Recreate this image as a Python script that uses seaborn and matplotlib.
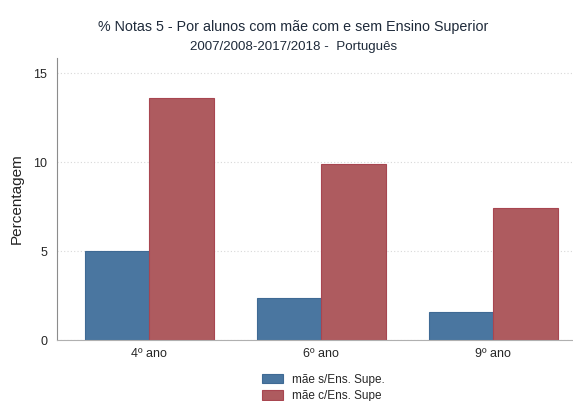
import seaborn as sns
import matplotlib.pyplot as plt
import pandas as pd

sns.set_style("white")
plt.rcParams["font.family"] = ["Liberation Sans", "DejaVu Sans"]

# Data
anos = ["4º ano", "6º ano", "9º ano"]
grupos = ["mãe s/Ens. Supe.", "mãe c/Ens. Supe"]
sem_superior = [5.0, 2.37, 1.58]
com_superior = [13.6, 9.88, 7.43]

df = pd.DataFrame({
    "ano": anos * 2,
    "grupo": [grupos[0]] * 3 + [grupos[1]] * 3,
    "pct": sem_superior + com_superior,
})

fig = plt.figure(figsize=(5.73, 4.01), dpi=100)
ax = fig.add_axes([0.0995, 0.152, 0.9005, 0.703])

sns.barplot(
    data=df, x="ano", y="pct", hue="grupo",
    palette=["#4a76a0", "#ae5b5f"], width=0.75, saturation=1,
    edgecolor=None, linewidth=0, ax=ax,
)
for patch, ec in zip(ax.patches[:6], ["#3f6a94"] * 3 + ["#a84650"] * 3):
    patch.set_edgecolor(ec)
    patch.set_linewidth(0.8)

ax.set_xlim(-0.535, 2.465)
ax.set_ylim(0, 15.84)
ax.set_yticks([0, 5, 10, 15])
ax.yaxis.grid(True, linestyle=(0, (1, 2)), color="#d8d8d8", linewidth=0.8)
ax.set_axisbelow(True)

for side in ["top", "right"]:
    ax.spines[side].set_visible(False)
ax.spines["left"].set_color("#8c8c8c")
ax.spines["bottom"].set_color("#b0b0b0")
ax.tick_params(axis="y", length=4, color="#8c8c8c", labelsize=9, pad=3)
ax.tick_params(axis="x", length=0, labelsize=9, pad=6)

ax.set_xlabel("")
ax.set_ylabel("Percentagem", fontsize=11, color="#222222", labelpad=7)

fig.text(0.512, 0.932, "% Notas 5 - Por alunos com mãe com e sem Ensino Superior",
         ha="center", va="center", fontsize=10.3, color="#1e2a3a")
fig.text(0.512, 0.882, "2007/2008-2017/2018 -  Português",
         ha="center", va="center", fontsize=9.6, color="#1e2a3a")

ax.legend_.remove()
handles = ax.patches[0], ax.patches[3]
fig.legend(handles, grupos, loc="upper left", bbox_to_anchor=(0.447, 0.083),
           frameon=False, fontsize=8.5, handlelength=1.75, handleheight=0.9,
           labelspacing=0.4, handletextpad=0.75, borderpad=0)

fig.savefig("out.png", dpi=100)
plt.close(fig)
